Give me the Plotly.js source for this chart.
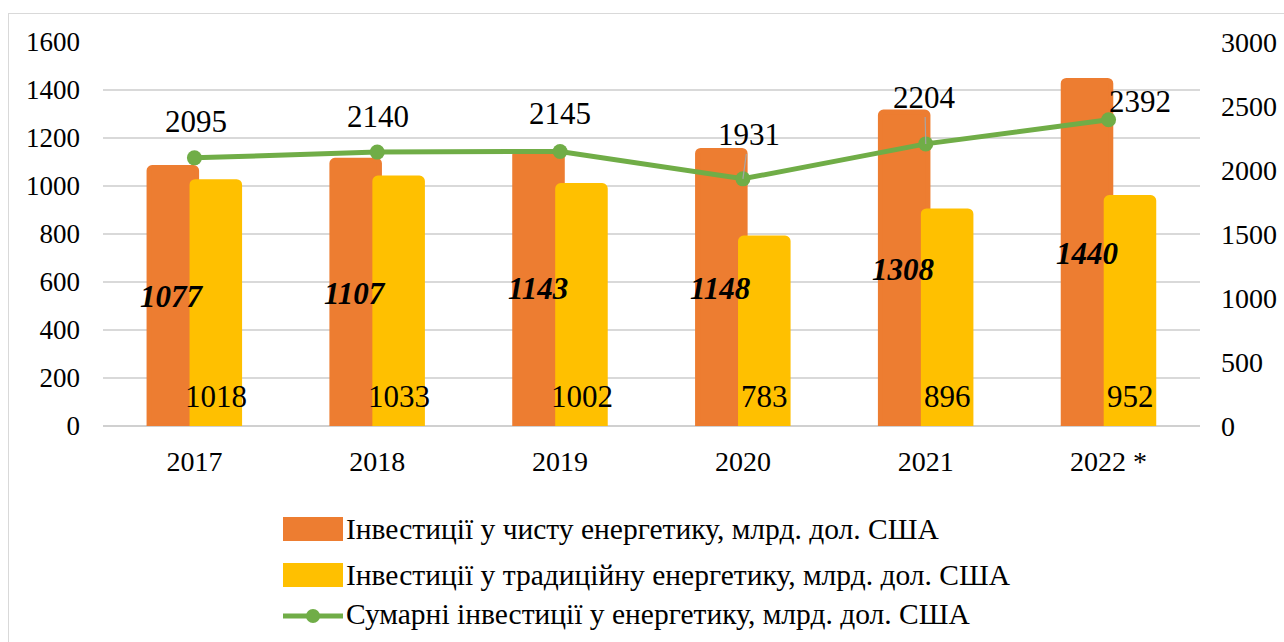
<!DOCTYPE html>
<html>
<head>
<meta charset="utf-8">
<script src="https://cdn.plot.ly/plotly-3.0.1.min.js"></script>
<style>
  html, body { margin: 0; padding: 0; background: #fff; overflow: hidden; }
  #chart { position: absolute; left: 0; top: 0; width: 1284px; height: 642px; }
  #frame { position: absolute; left: 8px; top: 13px; width: 1300px; height: 660px;
           border: 1.5px solid #d9d9d9; pointer-events: none; }
</style>
</head>
<body>
<div id="chart"></div>
<div id="frame"></div>
<script>
const years = ['2017', '2018', '2019', '2020', '2021', '2022 *'];
const cleanInvest = [1077, 1107, 1143, 1148, 1308, 1440];
const tradInvest = [1018, 1033, 1002, 783, 896, 952];
const totalInvest = [2095, 2140, 2145, 1931, 2204, 2392];
const seriesNames = [
  'Інвестиції у чисту енергетику, млрд. дол. США',
  'Інвестиції у традиційну енергетику, млрд. дол. США',
  'Сумарні інвестиції у енергетику, млрд. дол. США'
];

// label placement (pixels), per year, for the total-line labels
const totalLabelDx = [2, 1, 0, 6, -1, 31];
const totalLabelDy = [-36, -36, -38, -44, -46, -18];
const totalLabelLeader = [false, false, false, true, true, false];

const FONT = '"Liberation Serif", "Times New Roman", Times, serif';
const ORANGE = '#ED7D31', YELLOW = '#FFC000', GREEN = '#70AD47';

const traces = [
  { type: 'bar', name: seriesNames[0], x: years, y: cleanInvest,
    width: 0.26, offset: -0.248,
    marker: { color: ORANGE, cornerradius: 3, line: { color: ORANGE, width: 5 } },
    showlegend: false, hoverinfo: 'y' },
  { type: 'bar', name: seriesNames[1], x: years, y: tradInvest,
    width: 0.26, offset: -0.013,
    marker: { color: YELLOW, cornerradius: 3, line: { color: YELLOW, width: 5 } },
    showlegend: false, hoverinfo: 'y' },
  { type: 'scatter', mode: 'lines+markers', name: seriesNames[2], x: years, y: totalInvest,
    yaxis: 'y2', line: { color: GREEN, width: 5 }, marker: { color: GREEN, size: 15 },
    showlegend: false, hoverinfo: 'y' }
];

const annotations = [];
years.forEach((yr, i) => {
  annotations.push({
    x: i, y: cleanInvest[i] / 2, xref: 'x', yref: 'y', xshift: -22,
    text: '<b><i>' + cleanInvest[i] + '</i></b>', showarrow: false,
    font: { family: FONT, size: 31, color: '#000' }
  });
  annotations.push({
    x: i, y: 0, xref: 'x', yref: 'y', xshift: 22, yshift: 30, yanchor: 'middle',
    text: String(tradInvest[i]), showarrow: false,
    font: { family: FONT, size: 31, color: '#000' }
  });
  const a = {
    x: i, y: totalInvest[i], xref: 'x', yref: 'y2',
    text: String(totalInvest[i]),
    font: { family: FONT, size: 31, color: '#000' }
  };
  if (totalLabelLeader[i]) {
    Object.assign(a, { showarrow: true, arrowhead: 0, arrowwidth: 1.2, arrowcolor: '#a6a6a6',
      ax: totalLabelDx[i], ay: totalLabelDy[i], standoff: 0 });
  } else {
    Object.assign(a, { showarrow: false, xshift: totalLabelDx[i], yshift: -totalLabelDy[i] });
  }
  annotations.push(a);
});

// custom legend (paper coords: plot area x 103..1200, y 42..426)
const PX = (px) => (px - 103) / 1097;
const PY = (py) => (426 - py) / 384;
const legendRows = [529, 575, 614];
const shapes = [
  { type: 'rect', xref: 'paper', yref: 'paper', x0: PX(283), x1: PX(343),
    y0: PY(legendRows[0] - 12), y1: PY(legendRows[0] + 12), fillcolor: ORANGE, line: { width: 0 } },
  { type: 'rect', xref: 'paper', yref: 'paper', x0: PX(283), x1: PX(343),
    y0: PY(legendRows[1] - 12), y1: PY(legendRows[1] + 12), fillcolor: YELLOW, line: { width: 0 } },
  { type: 'line', xref: 'paper', yref: 'paper', x0: PX(283), x1: PX(343),
    y0: PY(legendRows[2] + 2), y1: PY(legendRows[2] + 2), line: { color: GREEN, width: 5 } },
  { type: 'circle', xref: 'paper', yref: 'paper', x0: PX(306), x1: PX(320),
    y0: PY(legendRows[2] + 9), y1: PY(legendRows[2] - 5), fillcolor: GREEN, line: { width: 0 } }
];
seriesNames.forEach((nm, i) => {
  annotations.push({
    xref: 'paper', yref: 'paper', x: PX(344), y: PY(legendRows[i]), xanchor: 'left', yanchor: 'middle',
    text: nm, showarrow: false, font: { family: FONT, size: 29.5, color: '#000' }
  });
});

const layout = {
  width: 1284, height: 642,
  margin: { l: 103, r: 84, t: 42, b: 216 },
  paper_bgcolor: 'rgba(0,0,0,0)', plot_bgcolor: 'rgba(0,0,0,0)',
  barmode: 'overlay',
  font: { family: FONT, size: 27, color: '#000' },
  xaxis: { type: 'category', range: [-0.5, 5.5], showgrid: false, zeroline: false, showline: false,
    ticks: '', tickfont: { family: FONT, size: 28 }, ticklabelstandoff: 16 },
  yaxis: { range: [0, 1600], dtick: 200, showgrid: true, gridcolor: '#d9d9d9', gridwidth: 1.5,
    zeroline: true, zerolinecolor: '#d0d0d0', zerolinewidth: 2, showline: false, ticks: '',
    tickfont: { family: FONT, size: 27 }, ticklabelstandoff: 22 },
  yaxis2: { range: [0, 3000], dtick: 500, overlaying: 'y', side: 'right', showgrid: false,
    zeroline: false, showline: false, ticks: '', tickfont: { family: FONT, size: 28 },
    ticklabelstandoff: 20 },
  showlegend: false,
  shapes: shapes,
  annotations: annotations
};

Plotly.newPlot('chart', traces, layout, { displayModeBar: false, staticPlot: true });
</script>
</body>
</html>
